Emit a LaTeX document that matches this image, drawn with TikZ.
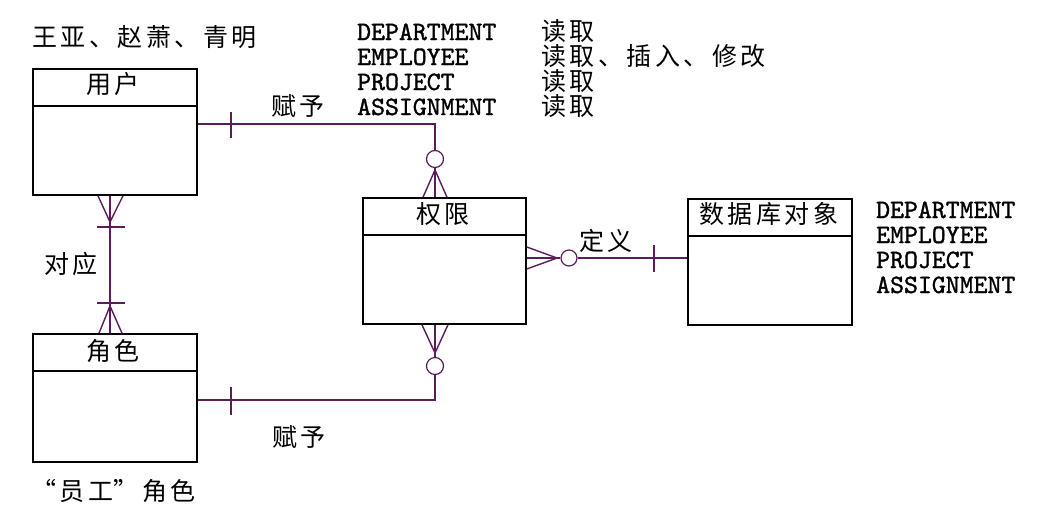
\documentclass[tikz,border=0pt]{standalone}
\usepackage{fontspec}
\newfontfamily\cjkfont{Noto Sans CJK SC}[LetterSpace=14]
\newfontfamily\monofont{lmmono10-regular.otf}[FakeBold=1.3]
\usetikzlibrary{calc}
\definecolor{relc}{RGB}{92,28,92}
\tikzset{
  ent/.style={draw=black, line width=1.6pt, inner sep=0pt, minimum width=164pt, minimum height=126pt},
  divl/.style={draw=black, line width=1.6pt},
  rel/.style={draw=relc, line width=1.4pt},
  ring/.style={circle, draw=relc, fill=white, line width=1.2pt, inner sep=0pt, minimum size=17pt},
  ct/.style={font=\cjkfont\fontsize{25}{25}\selectfont, inner sep=0pt, anchor=base west},
  mt/.style={font=\monofont\fontsize{26.5}{26.5}\selectfont, inner sep=0pt, anchor=base west},
}
\begin{document}
\begin{tikzpicture}[x=1pt,y=-1pt]
\useasboundingbox (0,0) rectangle (1038,522);
\fill[white] (0,0) rectangle (1038,522);

% entities
\node[ent] (user) at (115,132) {};
\node[ent, minimum height=128pt] (role) at (115,398) {};
\node[ent, minimum width=163pt] (perm) at (444.5,261) {};
\node[ent] (dbo) at (770,262) {};
\draw[divl] ($(user.north west)+(0,38)$) -- ($(user.north east)+(0,38)$);
\draw[divl] ($(role.north west)+(0,38)$) -- ($(role.north east)+(0,38)$);
\draw[divl] ($(perm.north west)+(0,38)$) -- ($(perm.north east)+(0,38)$);
\draw[divl] ($(dbo.north west)+(0,38)$) -- ($(dbo.north east)+(0,38)$);

% entity titles
\node[ct] (userT) at (86,93.5) {用户};
\node[ct] (roleT) at (86,360.5) {角色};
\node[ct] (permT) at (416,223.5) {权限};
\node[ct] (dboT) at (699,223.5) {数据库对象};

% free texts
\node[ct] (names) at (32,46.5) {王亚、赵萧、青明};
\node[mt] (m1) at (357,40) {DEPARTMENT};
\node[mt] (m2) at (357,65) {EMPLOYEE};
\node[mt] (m3) at (357,90) {PROJECT};
\node[mt] (m4) at (357,115) {ASSIGNMENT};
\node[ct] (p1) at (541,40.5) {读取};
\node[ct] (p2) at (541,65.5) {读取、插入、修改};
\node[ct] (p3) at (541,90.5) {读取};
\node[ct] (p4) at (541,115.5) {读取};
\node[mt] (o1) at (876,218) {DEPARTMENT};
\node[mt] (o2) at (876,243) {EMPLOYEE};
\node[mt] (o3) at (876,268) {PROJECT};
\node[mt] (o4) at (876,293) {ASSIGNMENT};
\node[ct] (l1) at (271,115.5) {赋予};
\node[ct] (l2) at (272,446.5) {赋予};
\node[ct] (l3) at (579,250.5) {定义};
\node[ct] (l4) at (44,273.5) {对应};
\node[ct] (roleName) at (31,500.5) {\makebox[28.7pt][l]{“}员工\makebox[28.7pt][l]{”}角色};

% user -- perm
\node[ring] (r1) at (435,159) {};
\coordinate (c1) at (435,170);
\draw[rel] (user.east |- 0,124) -| (r1.north);
\draw[rel] (r1.south) -- (c1);
\draw[rel] (perm.north -| 423,0) -- (c1) -- (perm.north -| 447,0);
\draw[rel] (c1) -- (perm.north -| 435,0);
\draw[rel] (231,112) -- (231,138);

% role -- perm
\node[ring] (r2) at (435,366) {};
\coordinate (c2) at (435,353);
\draw[rel] (role.east |- 0,400) -| (r2.south);
\draw[rel] (r2.north) -- (c2);
\draw[rel] (perm.south -| 422,0) -- (c2) -- (perm.south -| 448,0);
\draw[rel] (c2) -- (perm.south -| 435,0);
\draw[rel] (231,387) -- (231,415);

% user -- role
\coordinate (c3) at (110,222);
\coordinate (c4) at (110,306);
\draw[rel] (user.south -| 110,0) -- (role.north -| 110,0);
\draw[rel] (user.south -| 98,0) -- (c3) -- (user.south -| 123,0);
\draw[rel] (97,227) -- (125,227);
\draw[rel] (97,303) -- (125,303);
\draw[rel] (role.north -| 99,0) -- (c4) -- (role.north -| 122,0);

% perm -- dbo
\node[ring, minimum size=16pt] (r3) at (569,258) {};
\coordinate (c5) at (557,258);
\draw[rel] (r3.east) -- (dbo.west |- r3);
\draw[rel] (perm.east |- 0,247) -- (c5) -- (perm.east |- 0,269);
\draw[rel] (perm.east |- c5) -- (c5) -- (r3.west);
\draw[rel] (654,245) -- (654,272);
\end{tikzpicture}
\end{document}
